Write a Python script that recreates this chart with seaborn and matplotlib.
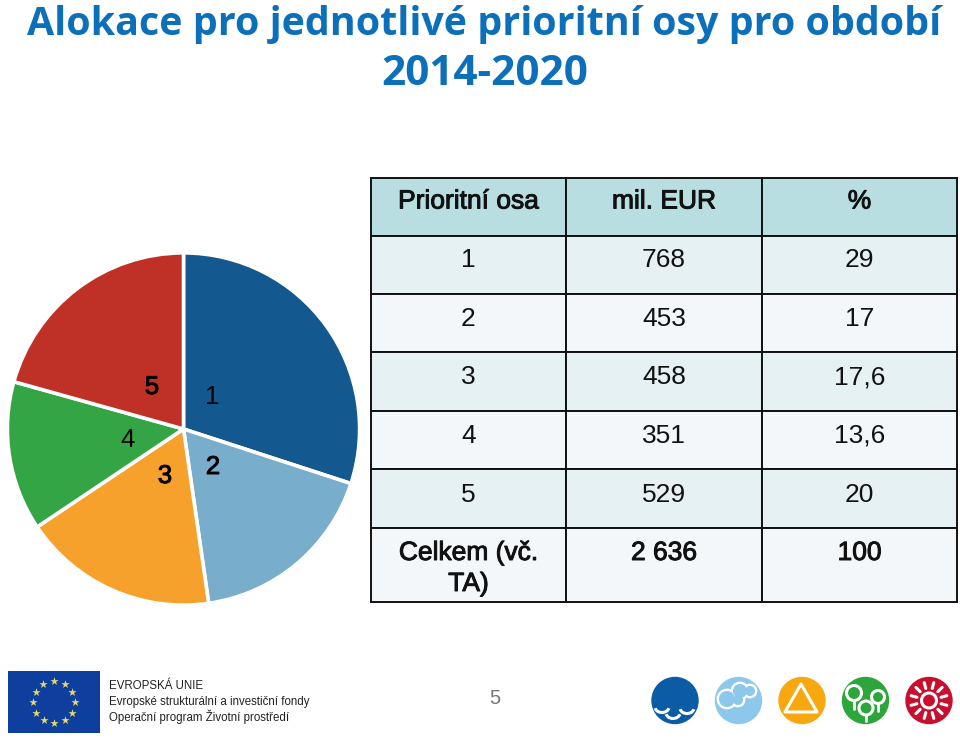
import numpy as np
import matplotlib
matplotlib.use("Agg")
import matplotlib.pyplot as plt
import matplotlib.patches as mpatches
import matplotlib.patheffects as pe
from matplotlib.table import Table
import seaborn as sns

W, H = 960, 742

# Data
osy = ["1", "2", "3", "4", "5"]
mil_eur = [768, 453, 458, 351, 529]
procenta = ["29", "17", "17,6", "13,6", "20"]
mil_eur_txt = ["768", "453", "458", "351", "529"]
hlavicka = ["Prioritní osa", "mil. EUR", "%"]
celkem = ["Celkem (vč.\nTA)", "2 636", "100"]
barvy = ["#13588E", "#78AECB", "#F6A12C", "#33A544", "#BF3127"]

COR_TITULO = "#0B6FBA"
COR_HLAV = "#B9DEE2"
COR_LICHY = "#E5F1F3"
COR_SUDY = "#F3F7FA"
COR_TEXTO = "#111111"

sns.set_theme(style="white")
plt.rcParams["font.family"] = ["Liberation Sans", "DejaVu Sans"]

fig = plt.figure(figsize=(W / 100, H / 100), dpi=100, facecolor="white")

# Pie
ax_pie = fig.add_axes([6.5 / W, (H - 606) / H, 354 / W, 354 / H])
ax_pie.pie(mil_eur, colors=sns.color_palette(barvy), startangle=90, counterclock=False,
           radius=1, wedgeprops=dict(edgecolor="white", linewidth=2.6))
ax_pie.set_xlim(-1.005, 1.005)
ax_pie.set_ylim(-1.005, 1.005)

# Overlay in pixel coordinates, above the pie
ax = fig.add_axes([0, 0, 1, 1], zorder=5)
ax.set_xlim(0, W)
ax.set_ylim(H, 0)
ax.axis("off")

ax.text(27, 35, "Alokace pro jednotlivé prioritní osy pro období", fontsize=28.4,
        fontweight="bold", color=COR_TITULO, va="baseline", ha="left", family="Open Sans")
ax.text(485, 85, "2014-2020", fontsize=30.4, fontweight="bold",
        color=COR_TITULO, va="baseline", ha="center", family="Open Sans")

rotulos = [(212, 397, False), (213, 467, True), (165, 476, True),
           (128, 440, False), (152, 387, True)]
for txt, (x, y, tucne) in zip(osy, rotulos):
    t = ax.text(x, y, txt, fontsize=18.5, color="black", ha="center", va="center")
    if tucne:
        t.set_path_effects([pe.withStroke(linewidth=0.7, foreground="black")])

# Table
x_tab = [371, 566, 762, 957]
y_tab = [178, 236, 294, 352, 411, 469, 528, 602]
y_base = [208.5, 267, 326, 384, 443, 502, 560]  # text baselines, not centred in the rows
tab = Table(ax, bbox=[371 / W, (H - 602) / H, 586 / W, 424 / H])
linhas = [hlavicka] + [list(r) for r in zip(osy, mil_eur_txt, procenta)] + [celkem]
for i, linha in enumerate(linhas):
    if i == 0:
        cor = COR_HLAV
    elif i == 6:
        cor = COR_SUDY
    else:
        cor = COR_LICHY if i % 2 == 1 else COR_SUDY
    for j, txt in enumerate(linha):
        cell = tab.add_cell(i, j, width=x_tab[j + 1] - x_tab[j], height=y_tab[i + 1] - y_tab[i],
                            facecolor=cor, edgecolor=COR_TEXTO)
        cell.set_linewidth(1.4)
        for k, parte in enumerate(txt.split("\n")):
            t = ax.text((x_tab[j] + x_tab[j + 1]) / 2, y_base[i] + 31 * k, parte, fontsize=19,
                        color=COR_TEXTO, ha="center", va="baseline", zorder=6)
            if i == 0 or i == 6:
                t.set_path_effects([pe.withStroke(linewidth=0.7, foreground=COR_TEXTO)])
ax.add_table(tab)

# Footer: EU flag
ax.add_patch(mpatches.Rectangle((8, 671), 92, 62, facecolor="#0F3F9E", edgecolor="none"))
ang = np.deg2rad(np.arange(0, 360, 30))
ax.scatter(54 + 21 * np.cos(ang), 702 + 21 * np.sin(ang), marker="*", s=38,
           color="#E5D96A", linewidths=0)
ax.text(109, 686, "EVROPSKÁ UNIE", fontsize=8.3, color="#222222", va="center")
ax.text(109, 702, "Evropské strukturální a investiční fondy", fontsize=8.3, color="#222222", va="center")
ax.text(109, 717, "Operační program Životní prostředí", fontsize=8.3, color="#222222", va="center")
ax.text(495, 698, "5", fontsize=14.5, color="#777777", ha="center", va="center")

# Footer: icons
cy = 700.5
ax.add_patch(mpatches.Circle((675, cy), 23.7, facecolor="#0B5CA5", edgecolor="none"))
for cx, cyy in [(662, 707), (673, 713), (687, 708)]:
    ax.add_patch(mpatches.Arc((cx, cyy), 14, 11, theta1=10, theta2=170, color="white", lw=2.2))

ax.add_patch(mpatches.Circle((738.5, cy), 23.7, facecolor="#8CC8EC", edgecolor="none"))
for cx, cyy, r in [(727, 699, 9), (740, 691, 8), (750, 691, 6), (738, 700, 6)]:
    ax.add_patch(mpatches.Circle((cx, cyy), r, facecolor="#8CC8EC", edgecolor="white", lw=2))
for cx, cyy, r in [(727, 699, 8), (740, 691, 7), (750, 691, 5), (738, 700, 5)]:
    ax.add_patch(mpatches.Circle((cx, cyy), r, facecolor="#8CC8EC", edgecolor="none"))

ax.add_patch(mpatches.Circle((802, cy), 23.7, facecolor="#F7A80E", edgecolor="none"))
ax.add_patch(mpatches.Polygon([(801, 684), (785, 712), (817, 712)], closed=True,
                              facecolor="#F7A80E", edgecolor="white", lw=2.2, joinstyle="round"))

ax.add_patch(mpatches.Circle((865.5, cy), 23.7, facecolor="#2CA53A", edgecolor="none"))
for cx, cyy, r, d in [(854, 693, 7.5, 12), (878, 697, 6.5, 11), (866, 708, 7, 10)]:
    ax.plot([cx, cx], [cyy + r, cyy + r + d - 4], color="white", lw=2)
    ax.add_patch(mpatches.Circle((cx, cyy), r, facecolor="#2CA53A", edgecolor="white", lw=2.2))

ax.add_patch(mpatches.Circle((929, cy), 23.7, facecolor="#C8102E", edgecolor="none"))
ax.add_patch(mpatches.Circle((929, cy), 7.5, facecolor="#C8102E", edgecolor="white", lw=2.2))
for a in np.deg2rad(np.arange(15, 375, 30)):
    ax.plot([929 + 12.5 * np.cos(a), 929 + 18.5 * np.cos(a)],
            [cy + 12.5 * np.sin(a), cy + 18.5 * np.sin(a)], color="white", lw=2.2,
            solid_capstyle="round")

fig.savefig("out.png", dpi=100)
plt.close(fig)
